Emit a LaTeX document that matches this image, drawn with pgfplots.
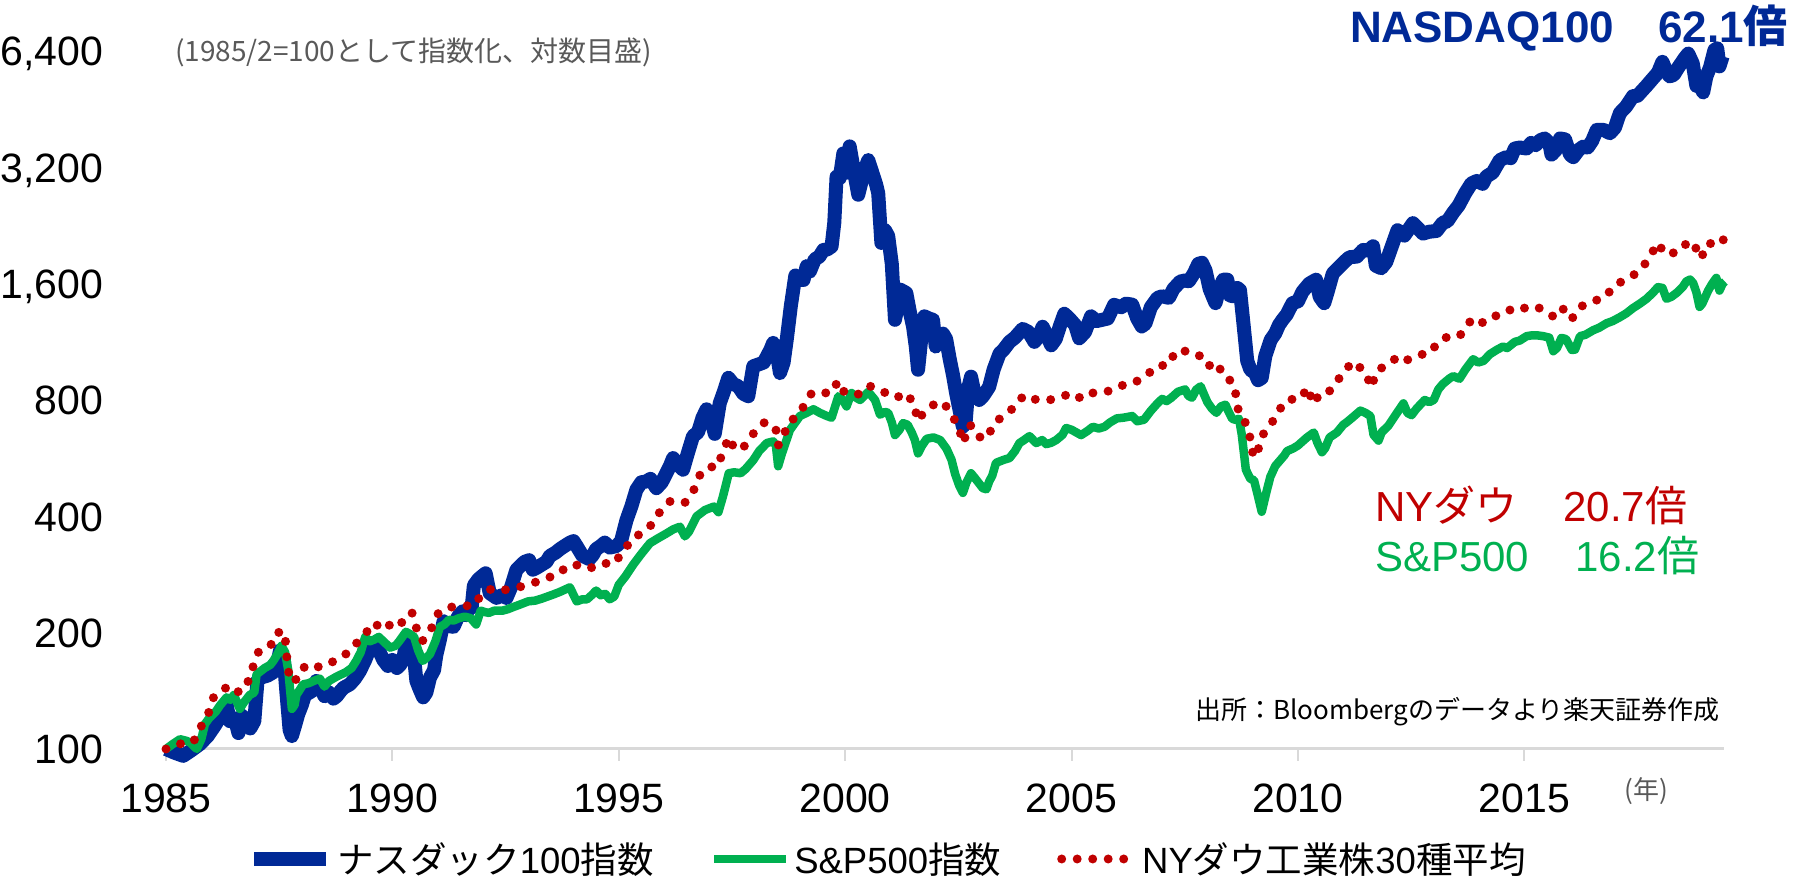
\documentclass[border=0pt]{standalone}
\usepackage{fontspec}
\setmainfont{Liberation Sans}
\newfontfamily\jp{Noto Sans CJK JP}
\usepackage{pgfplots}
\pgfplotsset{compat=1.18}
\usepackage{pgfplotstable}
\definecolor{ndq}{RGB}{0,41,150}
\definecolor{spg}{RGB}{0,176,80}
\definecolor{dowr}{RGB}{192,0,0}
\definecolor{axgray}{RGB}{217,217,217}
\definecolor{txgray}{RGB}{89,89,89}

\pgfplotstableread{
x y
1985.00 100
1985.17 98
1985.38 96
1985.55 99
1985.75 103
1985.92 108
1986.08 115
1986.23 123
1986.34 130
1986.41 118
1986.52 120
1986.60 110
1986.68 122
1986.78 118
1986.86 113
1986.95 118
1987.02 150
1987.10 153
1987.25 155
1987.37 158
1987.45 165
1987.52 180
1987.60 172
1987.66 140
1987.73 112
1987.78 108
1987.85 115
1987.92 123
1988.00 130
1988.07 138
1988.17 140
1988.25 142
1988.32 150
1988.38 147
1988.50 137
1988.60 140
1988.70 135
1988.77 137
1988.85 141
1988.92 144
1989.06 147
1989.17 152
1989.28 159
1989.40 170
1989.50 182
1989.58 180
1989.66 184
1989.72 178
1989.80 170
1989.90 164
1990.00 170
1990.10 162
1990.17 165
1990.24 171
1990.31 190
1990.38 184
1990.46 182
1990.53 150
1990.60 143
1990.68 136
1990.75 140
1990.83 153
1990.92 160
1990.97 175
1991.05 192
1991.13 214
1991.25 208
1991.35 207
1991.45 220
1991.55 227
1991.62 222
1991.69 231
1991.75 232
1991.80 265
1991.90 275
1991.98 280
1992.06 285
1992.15 253
1992.30 246
1992.42 250
1992.52 246
1992.62 262
1992.74 291
1992.83 298
1992.92 305
1993.02 308
1993.10 291
1993.20 295
1993.30 300
1993.40 305
1993.48 316
1993.60 322
1993.70 329
1993.80 335
1993.92 342
1994.00 345
1994.07 335
1994.20 316
1994.35 310
1994.43 318
1994.50 329
1994.60 335
1994.69 342
1994.80 332
1994.95 335
1995.05 345
1995.17 391
1995.28 425
1995.39 469
1995.50 490
1995.60 492
1995.70 500
1995.83 473
1995.95 490
1996.05 517
1996.13 540
1996.20 566
1996.30 545
1996.42 528
1996.52 580
1996.64 645
1996.75 660
1996.85 720
1996.94 757
1997.02 730
1997.12 654
1997.23 785
1997.32 840
1997.42 913
1997.53 880
1997.64 868
1997.75 830
1997.86 818
1997.97 978
1998.10 990
1998.20 1000
1998.27 1036
1998.35 1080
1998.41 1124
1998.48 1080
1998.56 939
1998.64 1000
1998.71 1147
1998.80 1400
1998.90 1680
1999.00 1637
1999.08 1636
1999.15 1776
1999.22 1720
1999.33 1850
1999.43 1880
1999.52 1956
1999.60 1960
1999.70 1997
1999.76 2300
1999.81 3027
1999.88 3000
1999.96 3475
2000.03 3100
2000.10 3624
2000.20 3100
2000.29 2718
2000.38 3000
2000.45 3200
2000.51 3340
2000.60 3100
2000.68 2900
2000.73 2745
2000.80 2040
2000.88 2200
2000.95 2126
2001.03 1800
2001.10 1290
2001.16 1400
2001.21 1545
2001.28 1530
2001.35 1513
2001.43 1350
2001.50 1238
2001.56 1100
2001.61 958
2001.68 1150
2001.75 1317
2001.85 1300
2001.94 1290
2002.00 1100
2002.08 1150
2002.16 1188
2002.23 1150
2002.31 1020
2002.38 930
2002.45 834
2002.52 760
2002.60 682
2002.66 700
2002.72 860
2002.78 919
2002.85 840
2002.96 800
2003.05 820
2003.18 865
2003.28 960
2003.41 1055
2003.50 1080
2003.63 1131
2003.75 1160
2003.92 1222
2004.05 1200
2004.18 1131
2004.28 1170
2004.36 1238
2004.45 1180
2004.55 1108
2004.65 1150
2004.75 1250
2004.84 1337
2004.95 1300
2005.08 1250
2005.17 1155
2005.30 1200
2005.43 1317
2005.55 1280
2005.68 1290
2005.80 1300
2005.94 1410
2006.10 1390
2006.20 1420
2006.34 1412
2006.45 1300
2006.55 1240
2006.63 1260
2006.75 1390
2006.90 1470
2007.00 1484
2007.15 1470
2007.25 1550
2007.40 1620
2007.50 1630
2007.59 1623
2007.70 1700
2007.80 1800
2007.88 1812
2007.96 1730
2008.05 1550
2008.12 1480
2008.18 1424
2008.26 1550
2008.35 1638
2008.44 1638
2008.50 1490
2008.58 1484
2008.66 1560
2008.72 1540
2008.80 1250
2008.88 1010
2008.95 958
2009.05 940
2009.12 900
2009.20 912
2009.28 1040
2009.40 1145
2009.50 1190
2009.58 1250
2009.66 1290
2009.75 1330
2009.88 1424
2010.00 1440
2010.10 1524
2010.25 1600
2010.40 1638
2010.48 1480
2010.58 1424
2010.66 1530
2010.77 1700
2010.90 1760
2011.02 1820
2011.14 1873
2011.30 1880
2011.44 1956
2011.55 1950
2011.62 1980
2011.66 2000
2011.72 1780
2011.84 1754
2011.95 1820
2012.10 2040
2012.20 2200
2012.35 2130
2012.54 2294
2012.66 2220
2012.76 2156
2012.90 2180
2013.06 2190
2013.20 2300
2013.30 2320
2013.43 2445
2013.55 2550
2013.70 2750
2013.83 2906
2013.95 2950
2014.08 2900
2014.16 3027
2014.30 3100
2014.46 3340
2014.60 3400
2014.70 3380
2014.79 3580
2014.90 3600
2015.05 3580
2015.15 3700
2015.25 3650
2015.35 3760
2015.45 3800
2015.55 3700
2015.60 3450
2015.70 3550
2015.79 3800
2015.90 3780
2016.01 3450
2016.08 3400
2016.20 3550
2016.30 3620
2016.40 3600
2016.50 3750
2016.60 4000
2016.75 4000
2016.89 3920
2017.00 4050
2017.11 4420
2017.25 4600
2017.40 4890
2017.50 4900
2017.60 5050
2017.70 5200
2017.82 5400
2017.95 5620
2018.05 6000
2018.14 5650
2018.21 5500
2018.30 5550
2018.40 5800
2018.54 6130
2018.62 6300
2018.72 5940
2018.80 5200
2018.87 5230
2018.95 5000
2019.02 5500
2019.10 5800
2019.20 6440
2019.26 6500
2019.31 5840
2019.38 6200
2019.43 6210
}\ndqtab

\pgfplotstableread{
x y
1985.00 100
1985.15 103
1985.31 106
1985.45 105
1985.53 104
1985.68 100
1985.78 106
1985.86 116
1985.95 120
1986.10 125
1986.20 130
1986.34 136
1986.42 134
1986.50 138
1986.63 127
1986.72 132
1986.85 138
1986.95 140
1987.00 156
1987.18 162
1987.30 165
1987.37 169
1987.45 175
1987.55 185
1987.63 178
1987.70 160
1987.78 127
1987.84 130
1987.88 138
1987.95 142
1988.03 147
1988.15 148
1988.32 151
1988.40 152
1988.50 145
1988.60 150
1988.77 154
1988.97 158
1989.10 162
1989.20 169
1989.30 178
1989.40 195
1989.50 190
1989.60 192
1989.70 195
1989.80 190
1989.95 183
1990.07 185
1990.15 190
1990.30 201
1990.40 198
1990.48 195
1990.57 180
1990.67 169
1990.75 172
1990.83 176
1990.95 190
1991.05 207
1991.15 210
1991.25 216
1991.35 215
1991.47 218
1991.60 220
1991.73 218
1991.85 210
1991.95 228
1992.05 226
1992.13 225
1992.25 228
1992.43 228
1992.55 230
1992.67 233
1992.80 236
1993.00 241
1993.15 242
1993.30 245
1993.55 251
1993.70 255
1993.92 262
1994.07 241
1994.20 244
1994.30 244
1994.40 250
1994.50 257
1994.60 250
1994.70 252
1994.80 244
1994.90 248
1995.00 266
1995.15 280
1995.32 300
1995.50 320
1995.69 341
1995.85 350
1996.05 361
1996.20 370
1996.35 376
1996.46 355
1996.55 365
1996.72 400
1996.90 415
1997.10 424
1997.20 410
1997.30 450
1997.43 517
1997.55 520
1997.69 517
1997.80 530
1997.97 559
1998.10 590
1998.27 619
1998.41 625
1998.47 610
1998.52 539
1998.60 580
1998.78 669
1998.90 700
1999.00 727
1999.15 741
1999.30 757
1999.45 740
1999.60 727
1999.70 720
1999.85 818
1999.95 800
2000.03 770
2000.14 834
2000.25 810
2000.33 800
2000.51 840
2000.66 800
2000.77 733
2000.88 745
2000.95 741
2001.03 700
2001.10 649
2001.20 670
2001.28 697
2001.38 690
2001.47 659
2001.54 630
2001.61 582
2001.70 610
2001.80 635
2001.95 640
2002.10 630
2002.24 598
2002.35 560
2002.43 514
2002.52 480
2002.60 460
2002.68 490
2002.78 517
2002.88 500
2003.04 473
2003.12 470
2003.18 492
2003.25 510
2003.33 550
2003.50 560
2003.63 566
2003.75 590
2003.85 619
2003.95 630
2004.07 645
2004.22 619
2004.35 630
2004.44 615
2004.55 620
2004.66 630
2004.80 650
2004.88 677
2005.00 670
2005.10 660
2005.21 649
2005.35 665
2005.47 682
2005.60 675
2005.73 682
2005.85 700
2006.00 717
2006.15 720
2006.34 727
2006.45 705
2006.60 711
2006.75 750
2006.88 780
2007.00 805
2007.10 795
2007.20 810
2007.35 840
2007.51 852
2007.58 820
2007.66 811
2007.75 850
2007.85 868
2007.92 830
2008.00 790
2008.10 760
2008.20 741
2008.30 770
2008.40 778
2008.46 750
2008.55 715
2008.62 711
2008.70 715
2008.76 650
2008.85 528
2008.95 500
2009.03 496
2009.12 450
2009.20 411
2009.30 460
2009.39 506
2009.50 540
2009.61 559
2009.70 575
2009.76 590
2009.90 600
2010.00 610
2010.06 619
2010.20 640
2010.35 659
2010.43 620
2010.53 586
2010.60 600
2010.70 640
2010.86 659
2011.00 690
2011.08 701
2011.20 720
2011.38 751
2011.50 740
2011.60 727
2011.67 650
2011.78 628
2011.85 660
2012.00 687
2012.15 730
2012.33 784
2012.42 740
2012.51 731
2012.62 760
2012.80 800
2012.90 790
2013.00 800
2013.10 852
2013.20 880
2013.35 910
2013.43 922
2013.57 908
2013.70 960
2013.87 1020
2013.98 1000
2014.10 1010
2014.24 1051
2014.40 1080
2014.53 1100
2014.62 1090
2014.79 1131
2014.90 1140
2015.05 1170
2015.15 1175
2015.30 1175
2015.42 1170
2015.55 1160
2015.64 1070
2015.72 1090
2015.82 1158
2015.92 1150
2016.05 1078
2016.12 1080
2016.23 1170
2016.35 1180
2016.52 1212
2016.65 1230
2016.82 1264
2016.95 1280
2017.11 1310
2017.25 1340
2017.40 1383
2017.55 1420
2017.70 1462
2017.85 1520
2017.95 1567
2018.05 1560
2018.14 1462
2018.25 1480
2018.36 1513
2018.50 1570
2018.58 1622
2018.66 1640
2018.73 1604
2018.80 1520
2018.87 1393
2018.93 1420
2019.06 1535
2019.15 1600
2019.24 1656
2019.31 1535
2019.38 1600
2019.43 1620
}\sptab

\pgfplotstableread{
x y
1985.00 100
1985.27 103
1985.60 104
1985.75 113
1985.93 123
1986.05 136
1986.20 141
1986.41 146
1986.62 140
1986.82 150
1986.92 163
1987.04 178
1987.30 184
1987.43 200
1987.62 201
1987.65 184
1987.68 166
1987.74 150
1987.85 150
1988.03 163
1988.25 160
1988.46 166
1988.64 167
1988.88 174
1989.01 177
1989.21 188
1989.40 198
1989.56 212
1989.70 208
1989.83 214
1990.02 205
1990.22 213
1990.43 226
1990.51 208
1990.66 190
1990.86 205
1991.01 224
1991.25 233
1991.42 233
1991.69 235
1991.81 235
1991.98 253
1992.24 261
1992.48 258
1992.78 262
1993.09 268
1993.38 277
1993.63 281
1993.87 298
1994.05 300
1994.24 293
1994.43 295
1994.66 303
1994.86 300
1995.09 322
1995.28 349
1995.52 363
1995.73 381
1995.91 411
1996.14 438
1996.46 434
1996.66 469
1996.79 511
1996.99 538
1997.17 535
1997.30 586
1997.43 641
1997.54 603
1997.68 593
1997.86 622
1998.02 669
1998.24 703
1998.47 671
1998.52 611
1998.63 631
1998.71 690
1998.96 733
1999.13 785
1999.26 834
1999.46 840
1999.66 830
1999.85 895
1999.99 834
2000.10 834
2000.31 828
2000.52 870
2000.69 860
2000.85 840
2001.06 811
2001.17 815
2001.35 834
2001.53 778
2001.60 706
2001.73 741
2001.96 779
2002.17 790
2002.34 735
2002.51 682
2002.60 619
2002.76 691
2002.90 645
2003.13 635
2003.29 697
2003.54 735
2003.76 770
2003.94 822
2004.24 800
2004.51 800
2004.78 815
2005.00 834
2005.23 805
2005.46 834
2005.74 836
2006.05 870
2006.33 880
2006.63 920
2006.88 980
2007.14 985
2007.30 1071
2007.57 1070
2007.80 1050
2008.00 978
2008.22 1000
2008.35 920
2008.55 893
2008.64 818
2008.69 741
2008.88 688
2008.96 625
2009.02 568
2009.12 595
2009.24 654
2009.42 697
2009.58 753
2009.78 803
2010.03 803
2010.23 862
2010.32 783
2010.46 820
2010.60 820
2010.80 870
2011.00 944
2011.22 1005
2011.48 946
2011.63 862
2011.71 937
2011.96 994
2012.24 1035
2012.37 1010
2012.66 1046
2012.91 1057
2013.12 1138
2013.39 1178
2013.58 1175
2013.80 1275
2013.97 1240
2014.22 1311
2014.52 1330
2014.79 1393
2015.00 1383
2015.25 1400
2015.49 1350
2015.66 1311
2015.84 1383
2016.04 1292
2016.23 1393
2016.52 1441
2016.78 1473
2017.00 1589
2017.28 1645
2017.55 1727
2017.76 1863
2017.94 2040
2018.12 1905
2018.41 1934
2018.64 2068
2018.80 1970
2018.90 1860
2019.06 2040
2019.26 2010
2019.38 2080
2019.43 2070
}\dowtab

\begin{document}
\begin{tikzpicture}
\useasboundingbox (0pt,0pt) rectangle (1793pt,878pt);
\begin{axis}[
  at={(166pt,129pt)}, anchor=south west,
  width=1558pt, height=698pt, scale only axis,
  xmin=1985, xmax=2019.41, ymin=100, ymax=6400,
  ymode=log, log basis y=2,
  clip=false,
  axis x line*=bottom, axis y line*=left,
  x axis line style={draw=axgray, line width=3pt, -},
  y axis line style={draw=none},
  xtick={1985,1990,1995,2000,2005,2010,2015},
  xticklabels={1985,1990,1995,2000,2005,2010,2015},
  ytick={100,200,400,800,1600,3200,6400},
  yticklabels={100,200,400,800,{1,600},{3,200},{6,400}},
  minor tick num=0,
  tick align=outside,
  xtick style={draw=axgray, line width=2pt},
  ytick style={draw=none},
  major tick length=12pt,
  ticklabel style={font=\fontsize{41}{41}\selectfont, text=black},
  xticklabel style={anchor=base, inner sep=0pt, yshift=-52pt},
  yticklabel style={anchor=base east, inner sep=0pt, xshift=-51pt, yshift=-14.7pt},
  legend columns=3,
  legend cell align=left,
  legend image code/.code={\draw[#1] (0pt,0pt) -- (72pt,0pt);},
  legend style={at={(0.4637,-0.1576)}, anchor=center, draw=none, fill=none,
    inner sep=0pt, font=\fontsize{36.5}{40}\selectfont,
    nodes={inner sep=4pt},
    /tikz/every even column/.append style={column sep=52pt}},
]
\addplot[ndq, line width=14pt, line join=round] table[x=x,y=y] {\ndqtab};
\addlegendentry{{\jp ナスダック}100{\jp 指数}}
\addplot[spg, line width=8.5pt, line join=round] table[x=x,y=y] {\sptab};
\addlegendentry{S\&P500{\jp 指数}}
\addplot[dowr, line width=9pt, line cap=round, dash pattern=on 0pt off 15.5pt] table[x=x,y=y] {\dowtab};
\addlegendentry{NY{\jp ダウ工業株}30{\jp 種平均}}
\end{axis}
\node[anchor=base west, inner sep=0pt, text=txgray, font=\jp\fontsize{28}{30}\selectfont] at (175pt,816pt) {(1985/2=100として指数化、対数目盛)};
\node[anchor=base east, inner sep=0pt, text=ndq, font=\bfseries\fontsize{44}{46}\selectfont] at (1788pt,835pt) {NASDAQ100\hspace{44pt}62.1{\jp\bfseries 倍}};
\node[anchor=base west, inner sep=0pt, text=dowr, font=\fontsize{42}{44}\selectfont] at (1375pt,356pt) {NY{\jp ダウ}\hspace{46pt}20.7{\jp 倍}};
\node[anchor=base west, inner sep=0pt, text=spg, font=\fontsize{42}{44}\selectfont] at (1375pt,306pt) {S\&P500\hspace{46pt}16.2{\jp 倍}};
\node[anchor=base east, inner sep=0pt, text=black, font=\jp\fontsize{26}{28}\selectfont] at (1720pt,158pt) {出所：Bloombergのデータより楽天証券作成};
\node[anchor=center, inner sep=0pt, text=txgray, font=\jp\fontsize{26}{28}\selectfont] at (1646pt,87pt) {(年)};
\end{tikzpicture}
\end{document}
